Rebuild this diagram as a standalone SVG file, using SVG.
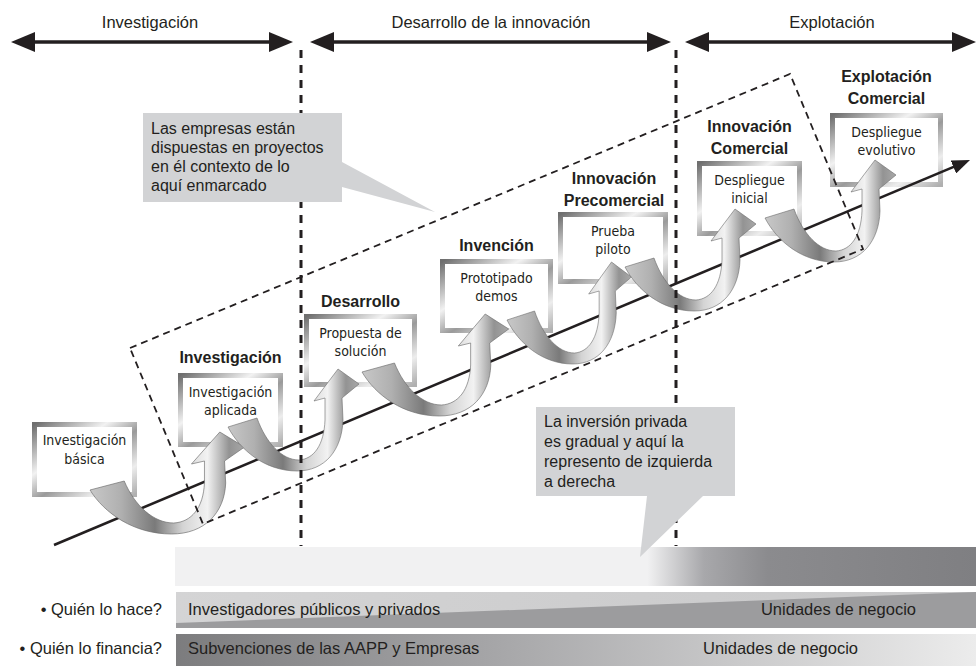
<svg xmlns="http://www.w3.org/2000/svg" xmlns:xlink="http://www.w3.org/1999/xlink" width="976" height="666" viewBox="0 0 976 666">
<style>
text{font-family:"Liberation Sans",Arial,sans-serif;fill:#231f20}
.hdr{font-size:16.5px;text-anchor:middle}
.ttl{font-size:16px;font-weight:bold;text-anchor:middle}
.bx{font-family:"DejaVu Sans Condensed","Liberation Sans Narrow","Liberation Sans",sans-serif;font-size:14px;text-anchor:middle}
.co{font-size:16px}
.bar{font-size:16.5px}
.frame{fill:#fff;stroke:url(#fg);stroke-width:5}
.harrow{stroke:#231f20;stroke-width:3.5;fill:none;marker-start:url(#hah);marker-end:url(#hah)}
.vdash{stroke:#231f20;stroke-width:3;stroke-dasharray:8 7;fill:none}
.rdash{stroke:#231f20;stroke-width:1.8;stroke-dasharray:7 5;fill:none}
.callout{fill:#d2d3d5}
.curl{fill:url(#rg);stroke:#6a6a6a;stroke-width:0.6}
</style>
<defs>
<marker id="hah" markerUnits="userSpaceOnUse" markerWidth="24" markerHeight="20" refX="14" refY="10" orient="auto-start-reverse">
<path d="M0,0 L24,10 L0,20 Z" fill="#231f20"/>
</marker>
<marker id="mah" markerUnits="userSpaceOnUse" markerWidth="18" markerHeight="14" refX="8" refY="7" orient="auto">
<path d="M0,0 L18,7 L0,14 Z" fill="#231f20"/>
</marker>
<linearGradient id="fg" x1="0" y1="0" x2="1" y2="1">
<stop offset="0" stop-color="#6f6f6f"/>
<stop offset="0.35" stop-color="#f2f2f2"/>
<stop offset="0.55" stop-color="#9a9a9a"/>
<stop offset="0.8" stop-color="#ededed"/>
<stop offset="1" stop-color="#b0b0b0"/>
</linearGradient>
<linearGradient id="rg" x1="0" y1="0" x2="1" y2="0">
<stop offset="0" stop-color="#c8c8c8"/>
<stop offset="0.2" stop-color="#b0b0b0"/>
<stop offset="0.42" stop-color="#7a7a7a"/>
<stop offset="0.6" stop-color="#d4d4d4"/>
<stop offset="0.76" stop-color="#f2f2f2"/>
<stop offset="0.9" stop-color="#939393"/>
<stop offset="1" stop-color="#a8a8a8"/>
</linearGradient>
<linearGradient id="b1" gradientUnits="userSpaceOnUse" x1="175" y1="0" x2="976" y2="0">
<stop offset="0" stop-color="#f1f1f2"/>
<stop offset="0.59" stop-color="#f1f1f2"/>
<stop offset="0.66" stop-color="#a8a8ab"/>
<stop offset="0.74" stop-color="#8b8b8e"/>
<stop offset="1" stop-color="#7f7f82"/>
</linearGradient>
<linearGradient id="b2" gradientUnits="userSpaceOnUse" x1="175" y1="0" x2="976" y2="0">
<stop offset="0" stop-color="#d4d4d5"/>
<stop offset="1" stop-color="#c8c8c9"/>
</linearGradient>
<linearGradient id="b3" gradientUnits="userSpaceOnUse" x1="175" y1="0" x2="976" y2="0">
<stop offset="0" stop-color="#7c7c7e"/>
<stop offset="0.4" stop-color="#a6a6a8"/>
<stop offset="1" stop-color="#ececec"/>
</linearGradient>
<path id="curl" class="curl" d="M0,0 C12,23 37,44 69,44 C97,44 114,23 115,-7 L114,-29 L131,-43 L110,-58 L86,-26 L97,-29 L97,-7 C96,18 86,32 71,33 C54,33 38,16 29,-9 Z"/>
</defs>

<g id="header">
<text class="hdr" x="150" y="28">Investigación</text>
<text class="hdr" x="491" y="28">Desarrollo de la innovación</text>
<text class="hdr" x="832" y="28">Explotación</text>
<line class="harrow" x1="21" y1="42" x2="283" y2="42"/>
<line class="harrow" x1="320" y1="42" x2="661" y2="42"/>
<line class="harrow" x1="695" y1="42" x2="966" y2="42"/>
</g>

<g id="box1">
<rect class="frame" x="34.5" y="424.5" width="100" height="70"/>
<text class="bx" x="84.5" y="445">Investigación</text>
<text class="bx" x="84.5" y="464">básica</text>
</g>
<g id="box2">
<text class="ttl" x="230.5" y="363">Investigación</text>
<rect class="frame" x="180.5" y="375.5" width="100" height="69"/>
<text class="bx" x="230.5" y="397">Investigación</text>
<text class="bx" x="230.5" y="415">aplicada</text>
</g>
<g id="box3">
<text class="ttl" x="360.5" y="307">Desarrollo</text>
<rect class="frame" x="306.5" y="316.5" width="108" height="68"/>
<text class="bx" x="360.5" y="338">Propuesta de</text>
<text class="bx" x="360.5" y="356">solución</text>
</g>
<g id="box4">
<text class="ttl" x="496.5" y="251">Invención</text>
<rect class="frame" x="442.5" y="261.5" width="108" height="69"/>
<text class="bx" x="496.5" y="283">Prototipado</text>
<text class="bx" x="496.5" y="301">demos</text>
</g>
<g id="box5">
<text class="ttl" x="614" y="184">Innovación</text>
<text class="ttl" x="614" y="206">Precomercial</text>
<rect class="frame" x="560.5" y="214.5" width="105" height="67"/>
<text class="bx" x="613" y="236">Prueba</text>
<text class="bx" x="613" y="254">piloto</text>
</g>
<g id="box6">
<text class="ttl" x="749.5" y="132">Innovación</text>
<text class="ttl" x="749.5" y="154">Comercial</text>
<rect class="frame" x="699.5" y="163.5" width="100" height="70"/>
<text class="bx" x="749.5" y="185">Despliegue</text>
<text class="bx" x="749.5" y="203">inicial</text>
</g>
<g id="box7">
<text class="ttl" x="886.5" y="82">Explotación</text>
<text class="ttl" x="886.5" y="104">Comercial</text>
<rect class="frame" x="832.5" y="115.5" width="108" height="69"/>
<text class="bx" x="886.5" y="137">Despliegue</text>
<text class="bx" x="886.5" y="155">evolutivo</text>
</g>

<g id="axis">
<line x1="54" y1="545" x2="960.8" y2="163.9" stroke="#231f20" stroke-width="2.6" marker-end="url(#mah)"/>
</g>

<g id="connectors">
<use xlink:href="#curl" href="#curl" transform="translate(90,490) scale(1.18,1)"/>
<use xlink:href="#curl" href="#curl" transform="translate(228,427)"/>
<use xlink:href="#curl" href="#curl" transform="translate(362,372) scale(1.12,1)"/>
<use xlink:href="#curl" href="#curl" transform="translate(507,320) scale(0.95,1)"/>
<use xlink:href="#curl" href="#curl" transform="translate(625,267)"/>
<use xlink:href="#curl" href="#curl" transform="translate(765,218)"/>
</g>

<g id="frameworks">
<path class="rdash" d="M130,348 L790,74 L863,249 L203,524 Z"/>
<line class="vdash" x1="301" y1="50" x2="301" y2="546"/>
<line class="vdash" x1="676" y1="50" x2="676" y2="546"/>
</g>

<g id="bars">
<rect x="175" y="547" width="801" height="39" fill="url(#b1)"/>
<rect x="176" y="592" width="800" height="36" fill="url(#b2)"/>
<path d="M176,628 L176,623 L976,592 L976,628 Z" fill="#9c9c9e"/>
<rect x="176" y="634" width="800" height="32" fill="url(#b3)"/>
<text class="bar" x="188" y="615">Investigadores públicos y privados</text>
<text class="bar" x="916" y="615" text-anchor="end">Unidades de negocio</text>
<text class="bar" x="188" y="654">Subvenciones de las AAPP y Empresas</text>
<text class="bar" x="703" y="654">Unidades de negocio</text>
<text class="bar" x="162" y="615" text-anchor="end">• Quién lo hace?</text>
<text class="bar" x="162" y="654" text-anchor="end">• Quién lo financia?</text>
</g>

<g id="callout1">
<path class="callout" d="M143,113 H342 V162 L435,212 L342,187 V202 H143 Z"/>
<text class="co" x="151" y="134">Las empresas están</text>
<text class="co" x="151" y="153">dispuestas en proyectos</text>
<text class="co" x="151" y="172">en él contexto de lo</text>
<text class="co" x="151" y="191">aquí enmarcado</text>
</g>
<g id="callout2">
<path class="callout" d="M536,407 H735 V496 H703 L640,557 L647,496 H536 Z"/>
<text class="co" x="544" y="427">La inversión privada</text>
<text class="co" x="544" y="447">es gradual y aquí la</text>
<text class="co" x="544" y="467">represento de izquierda</text>
<text class="co" x="544" y="487">a derecha</text>
</g>
</svg>
